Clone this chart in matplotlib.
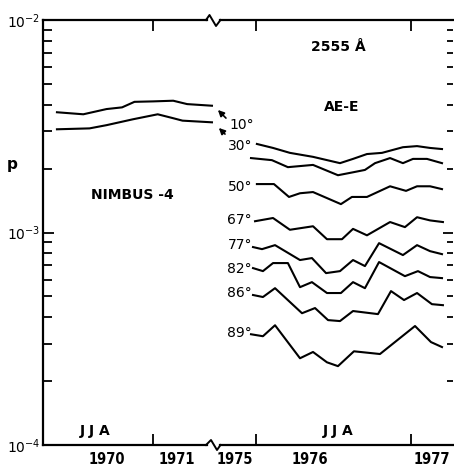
import numpy as np
import matplotlib
matplotlib.use('Agg')
import matplotlib.pyplot as plt
from matplotlib.lines import Line2D

# Datos (p en unidades de 1e-3)
nimbus_10_yr = [1970.38, 1970.55, 1970.70, 1970.80, 1970.88, 1971.00, 1971.13, 1971.22, 1971.38]
nimbus_10_p = [3.68, 3.60, 3.81, 3.88, 4.12, 4.14, 4.17, 4.02, 3.95]
nimbus_30_yr = [1970.38, 1970.59, 1970.70, 1970.87, 1971.03, 1971.13, 1971.19, 1971.38]
nimbus_30_p = [3.06, 3.09, 3.20, 3.41, 3.60, 3.45, 3.36, 3.30]

ae_10_yr = [1976.006, 1976.110, 1976.219, 1976.368, 1976.542, 1976.626, 1976.716, 1976.813, 1976.948, 1977.039, 1977.123, 1977.200]
ae_10_p = [2.61, 2.50, 2.37, 2.27, 2.12, 2.22, 2.34, 2.37, 2.52, 2.55, 2.50, 2.47]
ae_30_yr = [1975.968, 1976.103, 1976.206, 1976.368, 1976.529, 1976.626, 1976.703, 1976.768, 1976.865, 1976.948, 1977.013, 1977.103, 1977.200]
ae_30_p = [2.24, 2.19, 2.03, 2.08, 1.86, 1.92, 1.97, 2.12, 2.24, 2.12, 2.22, 2.22, 2.12]
ae_50_yr = [1976.006, 1976.116, 1976.213, 1976.284, 1976.368, 1976.548, 1976.619, 1976.716, 1976.865, 1976.968, 1977.039, 1977.123, 1977.200]
ae_50_p = [1.69, 1.69, 1.47, 1.53, 1.55, 1.36, 1.47, 1.47, 1.65, 1.57, 1.65, 1.65, 1.60]
ae_67_yr = [1975.994, 1976.110, 1976.219, 1976.368, 1976.458, 1976.555, 1976.626, 1976.716, 1976.865, 1976.961, 1977.039, 1977.123, 1977.206]
ae_67_p = [1.13, 1.17, 1.03, 1.07, 0.93, 0.93, 1.04, 0.97, 1.12, 1.06, 1.18, 1.14, 1.12]
ae_77_yr = [1975.981, 1976.039, 1976.123, 1976.284, 1976.361, 1976.452, 1976.542, 1976.626, 1976.703, 1976.794, 1976.948, 1977.039, 1977.123, 1977.200]
ae_77_p = [0.854, 0.835, 0.872, 0.742, 0.758, 0.644, 0.658, 0.742, 0.695, 0.891, 0.783, 0.872, 0.817, 0.791]
ae_82_yr = [1975.981, 1976.045, 1976.110, 1976.206, 1976.284, 1976.361, 1976.458, 1976.548, 1976.626, 1976.703, 1976.794, 1976.961, 1977.045, 1977.123, 1977.200]
ae_82_p = [0.680, 0.658, 0.718, 0.718, 0.553, 0.584, 0.519, 0.519, 0.584, 0.547, 0.726, 0.623, 0.658, 0.617, 0.610]
ae_86_yr = [1975.981, 1976.045, 1976.123, 1976.297, 1976.381, 1976.465, 1976.542, 1976.626, 1976.787, 1976.871, 1976.955, 1977.039, 1977.135, 1977.206]
ae_86_p = [0.508, 0.497, 0.547, 0.417, 0.441, 0.387, 0.383, 0.427, 0.413, 0.530, 0.481, 0.519, 0.460, 0.455]
ae_89_yr = [1975.968, 1976.045, 1976.123, 1976.284, 1976.368, 1976.458, 1976.529, 1976.632, 1976.800, 1977.026, 1977.129, 1977.200]
ae_89_p = [0.332, 0.325, 0.366, 0.256, 0.274, 0.245, 0.235, 0.276, 0.268, 0.363, 0.305, 0.289]

ae_curves = [(ae_10_yr, ae_10_p), (ae_30_yr, ae_30_p), (ae_50_yr, ae_50_p), (ae_67_yr, ae_67_p),
             (ae_77_yr, ae_77_p), (ae_82_yr, ae_82_p), (ae_86_yr, ae_86_p), (ae_89_yr, ae_89_p)]

# etiquetas de latitud a la izquierda de las curvas AE-E
lat_labels = ['30°', '50°', '67°', '77°', '82°', '86°', '89°']
lat_label_p = [2.55, 1.636, 1.144, 0.872, 0.6725, 0.5186, 0.336]

# etiquetas de anos del eje x
left_year_labels = ['1970', '1971']
left_year_pos = [1970.70, 1971.155]
right_year_labels = ['1975', '1976', '1977']
right_year_pos = [1975.865, 1976.35, 1977.135]

W, H = 454, 467
fig = plt.figure(figsize=(W / 100, H / 100), dpi=100)

def fx(px):
    return px / W

def fy(py):
    return 1 - py / H

top_px, bot_px = 20, 445
ax1 = fig.add_axes([fx(43), fy(bot_px), fx(207) - fx(43), fy(top_px) - fy(bot_px)])
ax2 = fig.add_axes([fx(220), fy(bot_px), fx(453) - fx(220), fy(top_px) - fy(bot_px)], sharey=ax1)

lw = 1.5
ax1.plot(nimbus_10_yr, np.array(nimbus_10_p) * 1e-3, color='black', lw=lw, clip_on=False)
ax1.plot(nimbus_30_yr, np.array(nimbus_30_p) * 1e-3, color='black', lw=lw, clip_on=False)
for yr, p in ae_curves:
    ax2.plot(yr, np.array(p) * 1e-3, color='black', lw=lw)

ax1.set_yscale('log')
ax1.set_ylim(1e-4, 1e-2)
ax1.set_xlim(1970.290, 1971.348)
ax2.set_xlim(1975.768, 1977.271)

# ejes y marcas
for ax in (ax1, ax2):
    for s in ax.spines.values():
        s.set_linewidth(1.6)
    ax.spines['right'].set_visible(False)
    ax.tick_params(axis='x', which='major', direction='in', top=True, bottom=True,
                   length=8, width=1.3, labelbottom=False)
    ax.tick_params(axis='x', which='minor', length=0, labelsize=10.5, pad=5)
ax2.spines['left'].set_visible(False)

year_font = dict(family='DejaVu Sans', fontstretch='condensed', fontweight='bold')
ax1.set_xticks([1971.0])
ax1.set_xticks(left_year_pos, minor=True)
ax1.set_xticklabels(left_year_labels, minor=True, **year_font)
ax2.set_xticks([1976.0, 1977.0])
ax2.set_xticks(right_year_pos, minor=True)
ax2.set_xticklabels(right_year_labels, minor=True, **year_font)

ax1.tick_params(axis='y', which='both', direction='in', left=True, right=False, width=1.3, pad=2,
                labelsize=10)
ax1.tick_params(axis='y', which='major', length=8)
ax1.tick_params(axis='y', which='minor', length=6.5)
ax2.tick_params(axis='y', which='both', direction='in', left=False, right=True, labelleft=False,
                labelright=False, width=1.3)
ax2.tick_params(axis='y', which='major', length=7)
ax2.tick_params(axis='y', which='minor', length=4.5)

ax1.set_ylabel('p', rotation=0, fontsize=11, fontweight='bold')
ax1.yaxis.set_label_coords(-0.19, 0.642)

# textos
bold = dict(fontsize=10, fontweight='bold', ha='center', va='center')
ax2.text(1976.53, 7.46e-3, '2555 Å', **bold)
ax2.text(1976.555, 3.89e-3, 'AE-E', **bold)
ax1.text(1970.865, 1.5e-3, 'NIMBUS -4', **bold)
ax1.text(1970.626, 1.16e-4, 'J J A', **bold)
ax2.text(1976.53, 1.17e-4, 'J J A', **bold)

for lab, p in zip(lat_labels, lat_label_p):
    ax2.text(1975.975, p * 1e-3, lab, fontsize=10, ha='right', va='center')
ax2.text(1975.826, 3.2e-3, '10°', fontsize=10, ha='left', va='center')

# flechas hacia las curvas de Nimbus
arrow = dict(arrowstyle='-|>', color='black', lw=1.2, mutation_scale=9)
ax2.annotate('', xy=(1975.742, 3.853e-3), xytext=(1975.819, 3.382e-3),
             arrowprops=arrow, annotation_clip=False)
ax2.annotate('', xy=(1975.748, 3.17e-3), xytext=(1975.813, 2.844e-3),
             arrowprops=arrow, annotation_clip=False)

# simbolo de corte del eje
for pts in ([(206, 20), (209.5, 15), (216, 26), (220.5, 20)],
            [(206, 445), (211, 440), (217, 450), (220.5, 445)]):
    xs = [fx(p[0]) for p in pts]
    ys = [fy(p[1]) for p in pts]
    fig.add_artist(Line2D(xs, ys, transform=fig.transFigure, color='black', lw=1.4))

plt.savefig('out.png', dpi=100)
